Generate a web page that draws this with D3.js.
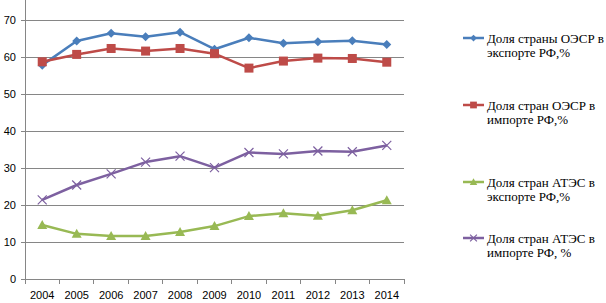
<!DOCTYPE html>
<html>
<head>
<meta charset="utf-8">
<script src="https://cdn.jsdelivr.net/npm/d3@7"></script>
<style>
  body { margin: 0; background: #fff; }
  svg { display: block; }
</style>
</head>
<body>
<div id="chart-area"></div>
<script>
const years = ['2004', '2005', '2006', '2007', '2008', '2009', '2010', '2011', '2012', '2013', '2014']
const oecdExport = [57.8, 64.3, 66.4, 65.5, 66.7, 62.1, 65.2, 63.7, 64.1, 64.4, 63.4]
const oecdImport = [58.7, 60.7, 62.3, 61.6, 62.3, 60.9, 57.0, 58.9, 59.7, 59.6, 58.6]
const apecExport = [14.6, 12.2, 11.6, 11.6, 12.7, 14.3, 17.0, 17.8, 17.1, 18.6, 21.3]
const apecImport = [21.4, 25.4, 28.4, 31.6, 33.2, 30.1, 34.2, 33.8, 34.6, 34.4, 36.1]
const yTicks = [0, 10, 20, 30, 40, 50, 60, 70]

const series = [
  { name: ['Доля страны ОЭСР в', 'экспорте РФ,%'], values: oecdExport, color: '#4a7ebb', marker: 'diamond' },
  { name: ['Доля стран ОЭСР в', 'импорте РФ,%'], values: oecdImport, color: '#be4b48', marker: 'square' },
  { name: ['Доля стран АТЭС в', 'экспорте РФ,%'], values: apecExport, color: '#98b954', marker: 'triangle' },
  { name: ['Доля стран АТЭС в', 'импорте РФ, %'], values: apecImport, color: '#7d60a0', marker: 'x' }
]

const W = 606, H = 303
const PLOT = { LEFT: 25, RIGHT: 404, BOTTOM: 279, TOP: 20 }

const svg = d3.select('#chart-area').append('svg')
  .attr('width', W)
  .attr('height', H)

const x = d3.scaleBand()
  .domain(years)
  .range([PLOT.LEFT, PLOT.RIGHT])

const y = d3.scaleLinear()
  .domain([0, 70])
  .range([PLOT.BOTTOM, PLOT.TOP])

// gridlines
svg.append('g')
  .selectAll('line')
  .data(yTicks.slice(1))
  .enter().append('line')
  .attr('x1', PLOT.LEFT)
  .attr('x2', PLOT.RIGHT)
  .attr('y1', d => y(d))
  .attr('y2', d => y(d))
  .attr('stroke', '#868686')
  .attr('stroke-width', 1)
  .attr('shape-rendering', 'crispEdges')

// y axis
const yAxis = svg.append('g')
  .attr('transform', `translate(${PLOT.LEFT}, 0)`)
  .call(d3.axisLeft(y).tickValues(yTicks).tickSize(4).tickPadding(5))
yAxis.select('.domain').remove()
yAxis.selectAll('line').attr('stroke', '#868686').attr('shape-rendering', 'crispEdges')
yAxis.append('line')
  .attr('x1', 0).attr('x2', 0)
  .attr('y1', 0).attr('y2', y(0))
  .attr('stroke', '#868686')
  .attr('shape-rendering', 'crispEdges')
yAxis.selectAll('text')
  .style('font-family', "'Liberation Sans', Arial, sans-serif")
  .style('font-size', '11px')
  .attr('fill', '#000')

// x axis
const xAxis = svg.append('g')
  .attr('transform', `translate(0, ${PLOT.BOTTOM})`)
  .call(d3.axisBottom(x).tickSize(0).tickPadding(12))
xAxis.select('.domain')
  .attr('stroke', '#868686')
  .attr('d', `M${PLOT.LEFT},0H${PLOT.RIGHT}`)
  .attr('shape-rendering', 'crispEdges')
xAxis.selectAll('text')
  .style('font-family', "'Liberation Sans', Arial, sans-serif")
  .style('font-size', '11px')
  .attr('fill', '#000')
xAxis.selectAll('.edge')
  .data(years.concat(['end']))
  .enter().append('line')
  .attr('x1', (d, i) => i < years.length ? x(d) : x(years[years.length - 1]) + x.bandwidth())
  .attr('x2', (d, i) => i < years.length ? x(d) : x(years[years.length - 1]) + x.bandwidth())
  .attr('y1', 0).attr('y2', 5)
  .attr('stroke', '#868686')
  .attr('shape-rendering', 'crispEdges')

const cx = d => x(d) + x.bandwidth() / 2

function drawMarker(sel, type, color, k = 1) {
  if (type === 'diamond') {
    sel.append('path').attr('d', `M0,${-4.5 * k}L${4.5 * k},0L0,${4.5 * k}L${-4.5 * k},0Z`).attr('fill', color)
  } else if (type === 'square') {
    sel.append('rect').attr('x', -4.5 * k).attr('y', -4.5 * k).attr('width', 9 * k).attr('height', 9 * k).attr('fill', color)
  } else if (type === 'triangle') {
    sel.append('path').attr('d', `M0,${-5 * k}L${5 * k},${4 * k}L${-5 * k},${4 * k}Z`).attr('fill', color)
  } else {
    const r = 4.5 * k
    sel.append('path').attr('d', `M${-r},${-r}L${r},${r}M${-r},${r}L${r},${-r}`)
      .attr('stroke', color).attr('stroke-width', 1.2).attr('fill', 'none')
  }
}

const line = d3.line()
  .x((d, i) => cx(years[i]))
  .y(d => y(d))

series.forEach(s => {
  svg.append('path')
    .datum(s.values)
    .attr('d', line)
    .attr('fill', 'none')
    .attr('stroke', s.color)
    .attr('stroke-width', 2.5)
    .attr('stroke-linejoin', 'round')

  svg.append('g').selectAll('g')
    .data(s.values)
    .enter().append('g')
    .attr('transform', (d, i) => `translate(${cx(years[i])}, ${y(d)})`)
    .each(function () { drawMarker(d3.select(this), s.marker, s.color) })
})

// legend
const legendY = [38, 105, 182, 238]
const legend = svg.append('g')
series.forEach((s, i) => {
  const g = legend.append('g').attr('transform', `translate(463, ${legendY[i]})`)
  g.append('line')
    .attr('x1', 0).attr('x2', 21)
    .attr('y1', 0).attr('y2', 0)
    .attr('stroke', s.color)
    .attr('stroke-width', 2.5)
  const m = g.append('g').attr('transform', 'translate(10.5, 0)')
  drawMarker(m, s.marker, s.color, 0.75)
  g.selectAll('text')
    .data(s.name)
    .enter().append('text')
    .attr('x', 24)
    .attr('y', (d, j) => j * 14.5 + 4.5)
    .text(d => d)
    .style('font-family', "'Liberation Serif', serif")
    .style('font-size', '13px')
    .attr('fill', '#000')
})
</script>
</body>
</html>
